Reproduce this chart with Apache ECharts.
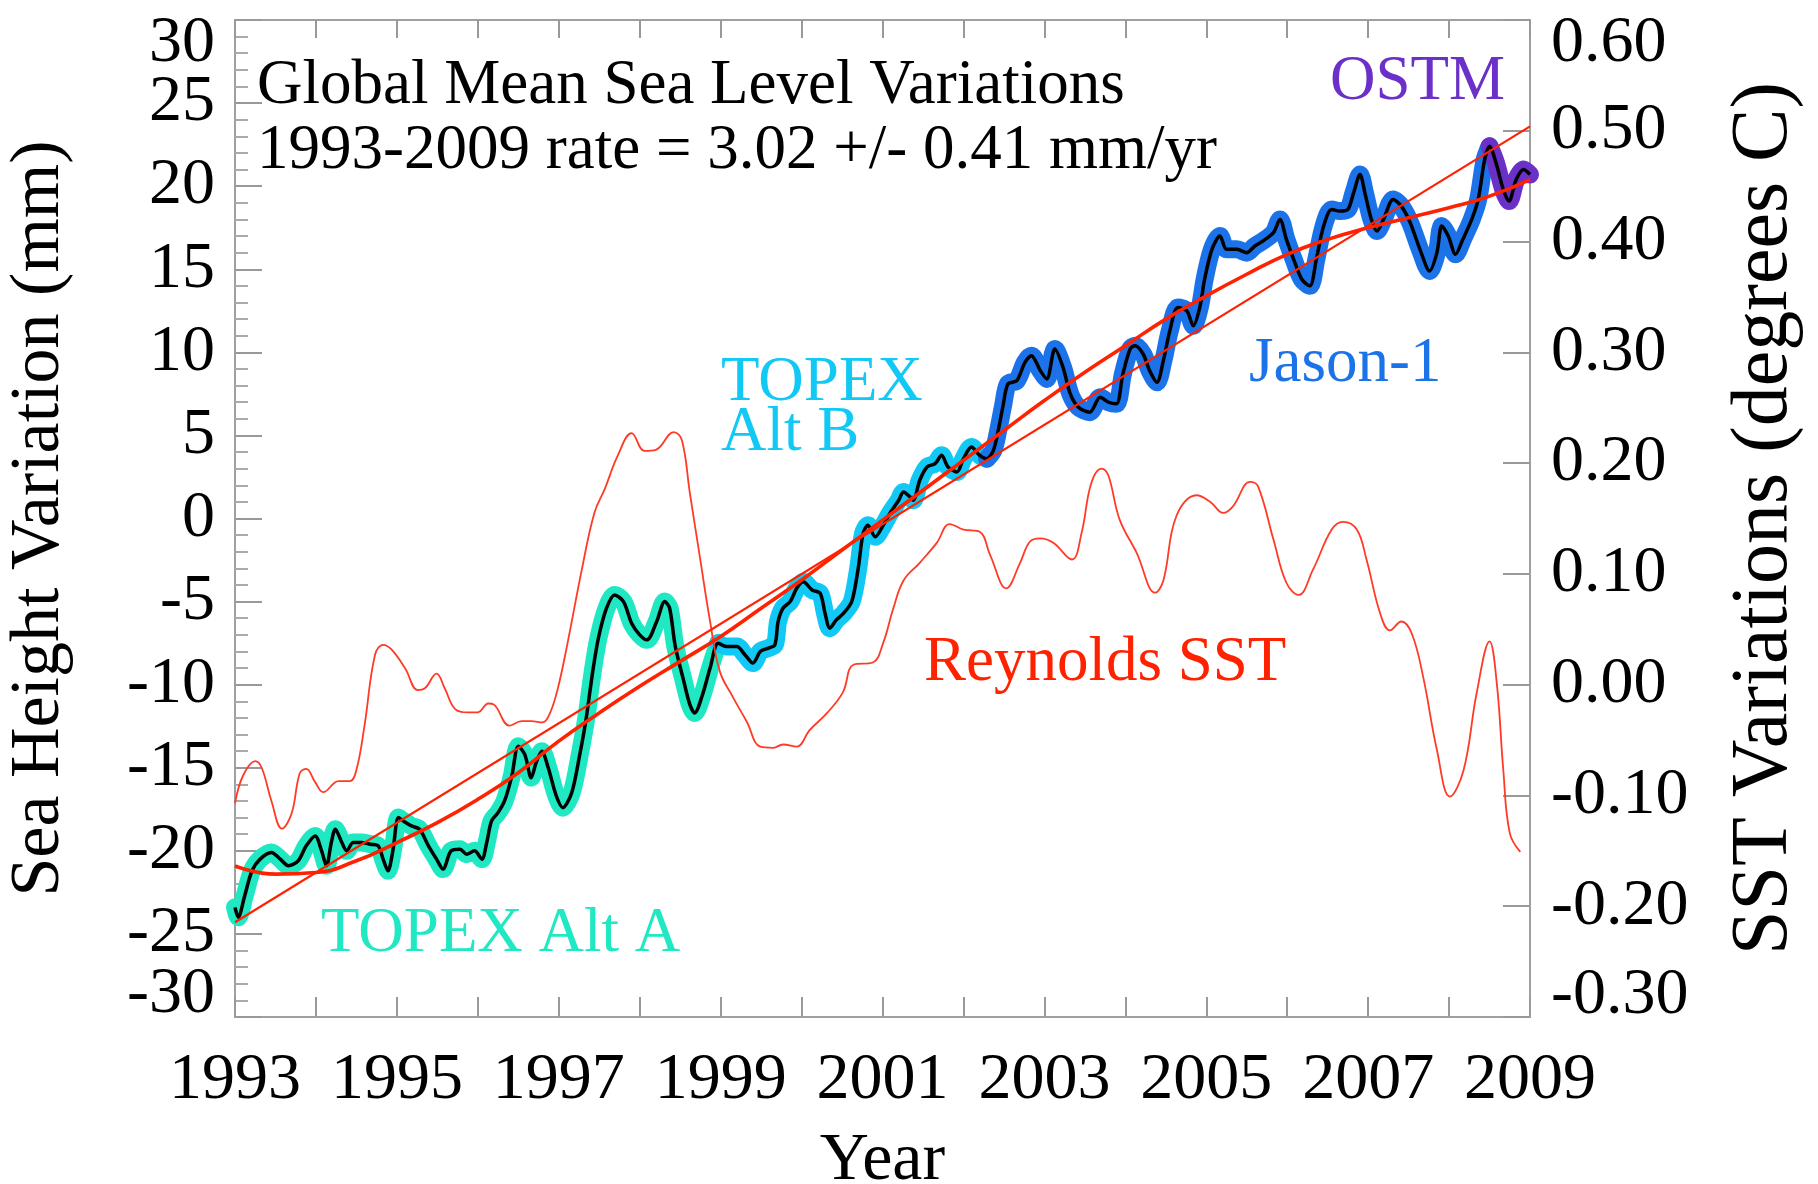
<!DOCTYPE html>
<html>
<head>
<meta charset="utf-8">
<script src="https://cdn.jsdelivr.net/npm/echarts@6/dist/echarts.min.js"></script>
<style>
html,body{margin:0;padding:0;background:#fff;overflow:hidden;}
#chart{width:1818px;height:1184px;}
</style>
</head>
<body>
<div id="chart"></div>
<script>
// ---- Data (year, mm) per mission ----
var topexA = [
[1993.00,-23.4],[1993.04,-24.0],[1993.12,-22.7],[1993.21,-21.2],[1993.31,-20.5],[1993.45,-20.1],
[1993.56,-20.5],[1993.66,-20.9],[1993.78,-20.6],[1993.88,-19.7],[1993.99,-19.1],[1994.07,-20.0],
[1994.13,-20.9],[1994.19,-19.5],[1994.24,-18.7],[1994.32,-19.5],[1994.38,-20.0],[1994.46,-19.5],
[1994.56,-19.5],[1994.67,-19.6],[1994.77,-19.7],[1994.83,-20.5],[1994.89,-21.2],[1994.95,-20.0],
[1995.02,-18.0],[1995.08,-18.2],[1995.18,-18.5],[1995.28,-18.7],[1995.39,-19.7],[1995.49,-20.5],
[1995.57,-21.1],[1995.67,-20.0],[1995.78,-19.9],[1995.86,-20.2],[1995.96,-20.0],[1996.05,-20.5],
[1996.11,-19.5],[1996.17,-18.2],[1996.25,-17.7],[1996.33,-17.0],[1996.42,-15.5],[1996.50,-13.7],
[1996.58,-14.2],[1996.66,-15.6],[1996.72,-14.7],[1996.79,-14.0],[1996.87,-15.0],[1996.97,-16.7],
[1997.05,-17.4],[1997.16,-16.5],[1997.26,-14.2],[1997.34,-12.0],[1997.42,-9.2],[1997.49,-7.2],
[1997.59,-5.4],[1997.69,-4.6],[1997.80,-5.0],[1997.90,-6.3],[1998.00,-7.0],[1998.09,-7.3],
[1998.21,-6.2],[1998.31,-5.0],[1998.37,-5.4],[1998.44,-7.7],[1998.54,-9.7],[1998.62,-11.2],
[1998.68,-11.7],[1998.77,-10.7],[1998.87,-9.0],[1998.97,-7.5]
];
var topexB = [
[1998.97,-7.5],[1999.07,-7.7],[1999.20,-7.7],[1999.30,-8.2],[1999.40,-8.7],[1999.49,-8.0],
[1999.59,-7.8],[1999.67,-7.6],[1999.71,-6.2],[1999.77,-5.4],[1999.86,-5.0],[1999.94,-4.2],
[2000.02,-3.8],[2000.13,-4.3],[2000.23,-4.5],[2000.29,-5.7],[2000.35,-6.6],[2000.43,-6.1],
[2000.52,-5.7],[2000.62,-5.0],[2000.70,-3.0],[2000.76,-0.9],[2000.82,-0.4],[2000.91,-1.1],
[2001.01,-0.4],[2001.09,0.3],[2001.20,1.1],[2001.26,1.6],[2001.34,1.3],[2001.38,1.1],
[2001.46,2.3],[2001.55,3.1],[2001.65,3.3],[2001.73,3.8],[2001.81,3.1],[2001.92,2.8],
[2002.00,3.6],[2002.10,4.3],[2002.20,3.8],[2002.29,3.6]
];
var jason1 = [
[2002.29,3.6],[2002.37,4.1],[2002.43,5.3],[2002.49,6.8],[2002.55,8.1],[2002.66,8.3],
[2002.76,9.4],[2002.84,9.8],[2002.95,8.9],[2003.03,8.4],[2003.13,10.2],[2003.23,9.1],
[2003.32,7.5],[2003.42,6.7],[2003.56,6.4],[2003.69,7.3],[2003.79,7.0],[2003.89,6.9],
[2003.97,8.7],[2004.06,10.2],[2004.12,10.4],[2004.22,9.9],[2004.30,8.9],[2004.39,8.2],
[2004.47,9.5],[2004.55,11.3],[2004.65,12.7],[2004.76,12.5],[2004.84,11.6],[2004.92,12.7],
[2004.98,14.4],[2005.07,16.2],[2005.17,17.0],[2005.25,16.2],[2005.38,16.2],[2005.50,16.0],
[2005.60,16.4],[2005.70,16.7],[2005.83,17.2],[2005.91,18.0],[2005.99,16.8],[2006.08,15.6],
[2006.18,14.4],[2006.28,14.0],[2006.36,15.6],[2006.45,17.6],[2006.55,18.6],[2006.65,18.5],
[2006.75,18.6],[2006.82,19.6],[2006.90,20.7],[2006.96,19.6],[2007.04,18.0],[2007.11,17.3],
[2007.19,18.0],[2007.31,19.2],[2007.41,18.8],[2007.52,17.8],[2007.64,16.2],[2007.76,14.9],
[2007.85,16.0],[2007.91,17.6],[2007.99,17.0],[2008.08,15.9],[2008.17,16.8],[2008.28,18.0],
[2008.36,19.2],[2008.44,21.6],[2008.50,22.4]
];
var ostm = [
[2008.50,22.4],[2008.58,21.4],[2008.67,19.8],[2008.74,19.1],[2008.83,20.4],[2008.92,21.0],[2009.00,20.7]
];
// Reynolds SST (year, deg C) on right axis
var sst = [
[1993.00,-0.107],[1993.10,-0.082],[1993.25,-0.069],[1993.33,-0.075],[1993.45,-0.105],[1993.58,-0.130],
[1993.70,-0.116],[1993.80,-0.080],[1993.88,-0.076],[1993.99,-0.088],[1994.09,-0.097],[1994.28,-0.087],
[1994.42,-0.087],[1994.50,-0.077],[1994.60,-0.037],[1994.73,0.027],[1994.83,0.036],[1994.93,0.032],
[1995.10,0.015],[1995.26,-0.005],[1995.35,-0.003],[1995.49,0.010],[1995.59,-0.003],[1995.72,-0.022],
[1995.88,-0.025],[1996.00,-0.025],[1996.13,-0.017],[1996.20,-0.018],[1996.39,-0.037],[1996.54,-0.033],
[1996.66,-0.033],[1996.80,-0.034],[1996.89,-0.026],[1996.99,-0.003],[1997.11,0.038],[1997.28,0.102],
[1997.44,0.155],[1997.57,0.177],[1997.73,0.207],[1997.90,0.227],[1998.06,0.211],[1998.20,0.212],
[1998.42,0.228],[1998.52,0.221],[1998.62,0.173],[1998.74,0.117],[1998.87,0.057],[1998.99,0.012],
[1999.15,-0.011],[1999.32,-0.033],[1999.49,-0.056],[1999.65,-0.057],[1999.77,-0.054],[1999.94,-0.056],
[2000.10,-0.041],[2000.31,-0.026],[2000.51,-0.007],[2000.64,0.018],[2000.88,0.020],[2001.01,0.038],
[2001.13,0.068],[2001.26,0.094],[2001.46,0.110],[2001.67,0.128],[2001.83,0.145],[2002.00,0.140],
[2002.20,0.138],[2002.33,0.117],[2002.53,0.087],[2002.70,0.110],[2002.82,0.129],[2002.95,0.132],
[2003.11,0.128],[2003.34,0.113],[2003.46,0.137],[2003.58,0.182],[2003.71,0.195],[2003.79,0.189],
[2003.93,0.149],[2004.14,0.119],[2004.37,0.083],[2004.47,0.094],[2004.63,0.152],[2004.88,0.171],
[2005.05,0.165],[2005.21,0.155],[2005.33,0.161],[2005.54,0.183],[2005.64,0.179],[2005.83,0.131],
[2005.99,0.092],[2006.14,0.081],[2006.32,0.104],[2006.55,0.140],[2006.69,0.147],[2006.86,0.140],
[2006.98,0.113],[2007.15,0.064],[2007.27,0.049],[2007.41,0.057],[2007.54,0.046],[2007.68,0.007],
[2007.85,-0.059],[2008.01,-0.101],[2008.18,-0.077],[2008.34,-0.008],[2008.50,0.039],[2008.59,0.001],
[2008.67,-0.077],[2008.75,-0.134],[2008.88,-0.151]
];
// Linear trend (end points) and smooth fit curve
var trendLine = [[1993.0,-24.3],[2009.0,23.6]];
var fitCurve = [
[1993.0,-20.9],[1993.5,-21.4],[1994.0,-21.3],[1994.5,-20.6],[1995.0,-19.5],[1995.5,-18.3],
[1996.0,-16.9],[1996.5,-15.3],[1997.0,-13.4],[1997.5,-11.7],[1998.0,-10.1],[1998.5,-8.6],
[1999.0,-7.1],[1999.5,-5.4],[2000.0,-3.7],[2000.5,-1.9],[2001.0,-0.1],[2001.5,1.7],
[2002.0,3.5],[2002.5,5.3],[2003.0,7.1],[2003.5,8.8],[2004.0,10.4],[2004.5,12.0],
[2005.0,13.4],[2005.5,14.7],[2006.0,15.9],[2006.5,16.8],[2007.0,17.5],[2007.5,18.1],
[2008.0,18.7],[2008.5,19.4],[2009.0,20.4]
];
var yearTicks = [1993, 2009];
var leftRange = [-30, 30];
var rightRange = [-0.3, 0.6];

var FONT = '"Liberation Serif","Times New Roman",serif';
var GRAY = '#a0a0a0';

function isEnd(v, r){ return Math.abs(v - r[0]) < 1e-6 || Math.abs(v - r[1]) < 1e-6; }
// main left labels (inner values)
function leftInnerFmt(v){ return isEnd(v, leftRange) ? '' : String(v); }
// extra left axis: only the end labels, nudged inward
function leftEndFmt(v){
  if (Math.abs(v - leftRange[1]) < 1e-6) return '{t|' + v + '}';
  if (Math.abs(v - leftRange[0]) < 1e-6) return '{b|' + v + '}';
  return '';
}
function rightFmt(v){
  if (Math.abs(v) < 1e-9) v = 0;
  var s = v.toFixed(2);
  if (Math.abs(v - rightRange[1]) < 1e-6) return '{t|' + s + '}';
  if (Math.abs(v - rightRange[0]) < 1e-6) return '{b|' + s + '}';
  return s;
}
function richFor(size, padTop, padBottom){
  return {
    t:{padding:[padTop,0,0,0], lineHeight:30, fontSize:size, fontFamily:FONT, color:'#000'},
    b:{padding:[0,0,padBottom,0], lineHeight:30, fontSize:size, fontFamily:FONT, color:'#000'}
  };
}

var allSea = topexA.concat(topexB.slice(1), jason1.slice(1), ostm.slice(1));

function halo(data, color){
  return {type:'line', data:data, xAxisIndex:0, yAxisIndex:0, symbol:'none', smooth:0.3, z:2,
    lineStyle:{color:color, width:18, cap:'round', join:'round'}};
}

var chart = echarts.init(document.getElementById('chart'), null, {renderer:'canvas'});
chart.setOption({
  animation:false,
  backgroundColor:'#ffffff',
  grid:{left:235, right:288, top:20, bottom:167, containLabel:false, outerBoundsMode:'none'},
  xAxis:[{
    type:'value', position:'bottom', min:yearTicks[0], max:yearTicks[1], interval:1,
    axisLine:{show:true, onZero:false, lineStyle:{color:GRAY, width:2}},
    axisTick:{show:true, inside:true, length:20, lineStyle:{color:'#999', width:2}},
    splitLine:{show:false},
    axisLabel:{show:true, margin:31, fontSize:66, fontFamily:FONT, color:'#000',
      showMinLabel:true, showMaxLabel:true,
      formatter:function(v){ return ((v - yearTicks[0]) % 2 === 0) ? String(v) : ''; }},
    name:'Year', nameLocation:'middle', nameGap:110,
    nameTextStyle:{fontSize:68, fontFamily:FONT, color:'#000'}
  },{
    type:'value', position:'top', min:yearTicks[0], max:yearTicks[1], interval:1,
    axisLine:{show:true, onZero:false, lineStyle:{color:GRAY, width:2}},
    axisTick:{show:true, inside:true, length:18, lineStyle:{color:'#999', width:2}},
    axisLabel:{show:false}, splitLine:{show:false}
  }],
  yAxis:[{
    type:'value', position:'left', min:leftRange[0], max:leftRange[1], interval:5,
    axisLine:{show:true, onZero:false, lineStyle:{color:GRAY, width:2}},
    axisTick:{show:true, inside:true, length:27, lineStyle:{color:'#999', width:2}},
    minorTick:{show:true, splitNumber:5, length:13, lineStyle:{color:'#aaa', width:2}},
    splitLine:{show:false},
    axisLabel:{margin:20, fontSize:66, fontFamily:FONT, color:'#000', formatter:leftInnerFmt},
    name:'Sea Height Variation (mm)', nameLocation:'middle', nameRotate:90, nameGap:160,
    nameTextStyle:{fontSize:70, fontFamily:FONT, color:'#000'}
  },{
    type:'value', position:'right', min:rightRange[0], max:rightRange[1], interval:0.1,
    axisLine:{show:true, onZero:false, lineStyle:{color:GRAY, width:2}},
    axisTick:{show:true, inside:true, length:27, lineStyle:{color:'#999', width:2}},
    splitLine:{show:false},
    axisLabel:{margin:21, fontSize:66, fontFamily:FONT, color:'#000', showMinLabel:true, showMaxLabel:true,
      formatter:rightFmt, rich:richFor(66, 48, 43)},
    name:'SST Variations (degrees C)', nameLocation:'middle', nameRotate:90, nameGap:195,
    nameTextStyle:{fontSize:80, fontFamily:FONT, color:'#000'}
  },{
    // helper axis carrying only the end labels 30 / -30 of the left scale
    type:'value', position:'left', min:leftRange[0], max:leftRange[1], interval:5,
    axisLine:{show:false, onZero:false}, axisTick:{show:false}, splitLine:{show:false},
    axisLabel:{margin:20, fontSize:66, fontFamily:FONT, color:'#000', showMinLabel:true, showMaxLabel:true,
      formatter:leftEndFmt, rich:richFor(66, 48, 44)}
  }],
  series:[
    halo(topexA, '#1fe8c3'),
    halo(topexB, '#12c8f4'),
    halo(jason1, '#1c72e8'),
    halo(ostm, '#6a30c8'),
    {type:'line', data:allSea, symbol:'none', smooth:0.3, z:3,
      lineStyle:{color:'#000', width:3.5}},
    {type:'line', data:sst, yAxisIndex:1, symbol:'none', smooth:0.4, z:4,
      lineStyle:{color:'#ff3a26', width:1.8}},
    {type:'line', data:trendLine, symbol:'none', z:5,
      lineStyle:{color:'#ff2200', width:2.2}},
    {type:'line', data:fitCurve, symbol:'none', smooth:true, z:5,
      lineStyle:{color:'#ff2200', width:3.6}}
  ],
  graphic:[
    {type:'text', z:10, style:{text:'Global Mean Sea Level Variations', x:257, y:86, font:'63px ' + FONT, fill:'#000', align:'left', verticalAlign:'middle', textAlign:'left', textVerticalAlign:'middle'}},
    {type:'text', z:10, style:{text:'1993-2009 rate = 3.02 +/- 0.41 mm/yr', x:257, y:151, font:'63px ' + FONT, fill:'#000', align:'left', verticalAlign:'middle', textAlign:'left', textVerticalAlign:'middle'}},
    {type:'text', z:10, style:{text:'OSTM', x:1330, y:82, font:'63px ' + FONT, fill:'#6a30c8', align:'left', verticalAlign:'middle', textAlign:'left', textVerticalAlign:'middle'}},
    {type:'text', z:10, style:{text:'TOPEX', x:721, y:383, font:'63px ' + FONT, fill:'#12c8f4', align:'left', verticalAlign:'middle', textAlign:'left', textVerticalAlign:'middle'}},
    {type:'text', z:10, style:{text:'Alt B', x:721, y:433, font:'63px ' + FONT, fill:'#12c8f4', align:'left', verticalAlign:'middle', textAlign:'left', textVerticalAlign:'middle'}},
    {type:'text', z:10, style:{text:'Jason-1', x:1249, y:364, font:'63px ' + FONT, fill:'#1c72e8', align:'left', verticalAlign:'middle', textAlign:'left', textVerticalAlign:'middle'}},
    {type:'text', z:10, style:{text:'Reynolds SST', x:924, y:663, font:'63px ' + FONT, fill:'#ff2200', align:'left', verticalAlign:'middle', textAlign:'left', textVerticalAlign:'middle'}},
    {type:'text', z:10, style:{text:'TOPEX Alt A', x:321, y:934, font:'63px ' + FONT, fill:'#1fe8c3', align:'left', verticalAlign:'middle', textAlign:'left', textVerticalAlign:'middle'}}
  ]
});
</script>
</body>
</html>
